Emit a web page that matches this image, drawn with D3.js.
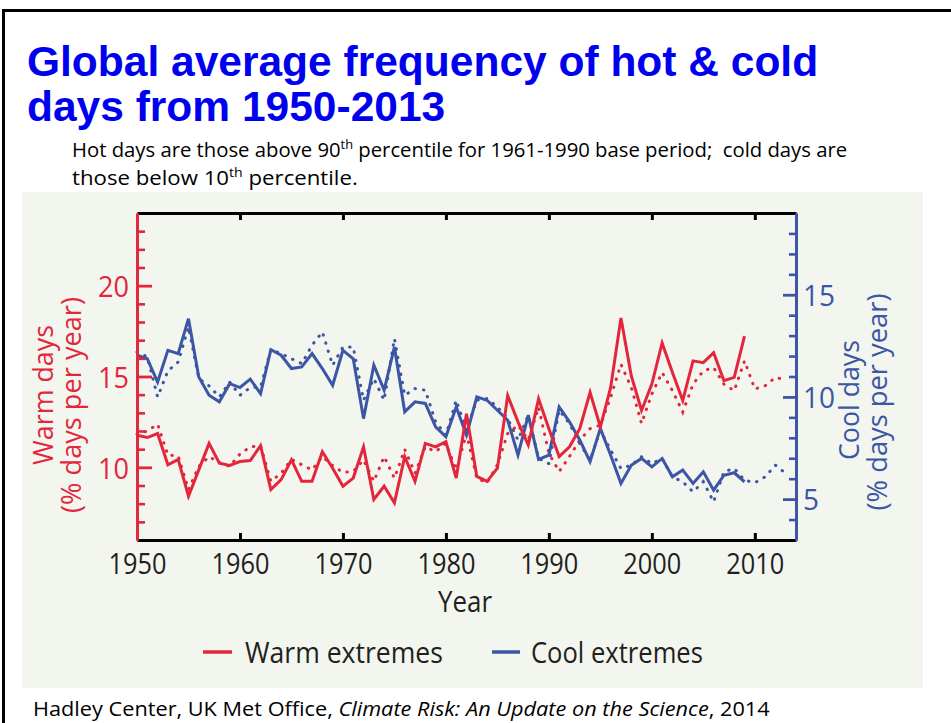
<!DOCTYPE html>
<html>
<head>
<meta charset="utf-8">
<script src="https://cdn.jsdelivr.net/npm/d3@7"></script>
<style>
  body { margin: 0; background: #fff; }
  svg { display: block; }
  text { white-space: pre; }
</style>
</head>
<body>
<svg id="chart" width="951" height="723"></svg>
<script>
// ---- data -------------------------------------------------------------
const startYear = 1950;
const xTickYears = [1950, 1960, 1970, 1980, 1990, 2000, 2010];
const warmTicks = [10, 15, 20];
const coolTicks = [5, 10, 15];

// warm days, % of days per year (solid: 1950-2009, dotted: 1950-2013)
const warmSolid = [
  11.77, 11.64, 11.86, 10.14, 10.44, 8.41, 9.86, 11.32, 10.23, 10.10,
  10.32, 10.37, 11.19, 8.77, 9.32, 10.41, 9.23, 9.23, 10.86, 9.95,
  8.96, 9.41, 11.13, 8.23, 8.96, 8.05, 10.59, 9.23, 11.32, 11.13,
  11.41, 9.41, 12.95, 9.50, 9.23, 9.95, 13.95, 12.50, 11.23, 13.77,
  12.13, 10.59, 11.13, 12.13, 14.13, 12.22, 14.40, 18.22, 15.04, 13.13,
  14.58, 16.85, 15.22, 13.68, 15.86, 15.76, 16.31, 14.77, 14.95, 17.22
];
const warmDotted = [
  11.82, 12.00, 12.37, 10.68, 10.63, 8.77, 10.05, 10.59, 10.26, 10.05,
  10.73, 11.13, 11.19, 9.23, 9.68, 10.44, 10.14, 9.86, 10.59, 10.10,
  9.72, 9.77, 10.41, 9.23, 10.59, 9.41, 10.99, 9.68, 11.13, 10.86,
  11.32, 9.86, 11.86, 9.41, 9.14, 10.14, 11.86, 12.32, 11.50, 13.31,
  10.77, 9.77, 10.59, 11.50, 12.13, 12.32, 13.86, 15.67, 14.40, 12.41,
  14.04, 15.22, 14.22, 13.04, 14.58, 15.31, 15.49, 14.58, 14.22, 15.86,
  14.31, 14.49, 14.95, 14.82
];

// cool days, % of days per year
const coolSolid = [
  12.04, 11.87, 10.73, 12.28, 12.12, 13.83, 10.98, 10.08, 9.76, 10.65,
  10.46, 10.87, 10.16, 12.31, 12.04, 11.39, 11.47, 12.12, 11.39, 10.57,
  12.28, 11.87, 8.94, 11.55, 10.33, 12.44, 9.27, 9.76, 9.68, 8.54,
  8.05, 9.51, 8.13, 10.00, 9.84, 9.35, 8.86, 7.15, 9.11, 6.94,
  7.15, 9.51, 8.78, 7.89, 6.83, 8.46, 7.15, 5.77, 6.66, 6.99,
  6.58, 6.99, 6.09, 6.42, 5.77, 6.34, 5.44, 6.17, 6.29, 5.85
];
const coolDotted = [
  12.20, 11.96, 10.00, 11.27, 11.71, 13.42, 10.90, 10.54, 10.00, 10.73,
  10.08, 10.46, 10.49, 12.31, 12.12, 11.87, 11.63, 12.53, 13.18, 11.55,
  12.44, 12.44, 9.84, 10.90, 9.84, 12.85, 10.08, 10.41, 10.33, 8.78,
  8.13, 9.84, 8.37, 9.84, 9.92, 9.51, 8.94, 7.89, 9.11, 6.99,
  6.74, 9.35, 8.70, 7.72, 6.91, 8.37, 7.40, 6.50, 6.66, 7.07,
  6.74, 6.99, 6.09, 5.85, 5.36, 5.85, 4.87, 6.34, 6.50, 5.93,
  5.80, 6.09, 6.66, 6.26
];

// ---- setup ------------------------------------------------------------
const W = 951, H = 723;
const plot = { left: 137, right: 796, top: 213, bottom: 540 };
const RED = "#e4263c", BLUE = "#3c55a5", INK = "#231f20";
const chartFont = "'Open Sans', 'Noto Sans', sans-serif";
const slideFont = "'Open Sans', 'Noto Sans', sans-serif";

const svg = d3.select("#chart");

// text helper: places text at (x,y), optional rotation, squeezed to a given width
function label(parent, content, o) {
  const t = parent.append("text")
    .attr("font-family", o.font || chartFont)
    .attr("font-size", o.size)
    .attr("font-weight", o.weight || null)
    .attr("fill", o.fill || INK)
    .attr("text-anchor", o.anchor || "start");
  if (typeof content === "string") t.text(content); else content(t);
  const s = o.width ? o.width / t.node().getComputedTextLength() : 1;
  t.attr("transform",
    `translate(${o.x},${o.y})` + (o.rotate ? ` rotate(${o.rotate})` : "") + ` scale(${s},1)`);
  return t;
}

// slide background and border
svg.append("rect").attr("width", W).attr("height", H).attr("fill", "#fff");
svg.append("path").attr("d", `M3.5,${H}V10.5H${W}`)
  .attr("fill", "none").attr("stroke", "#000").attr("stroke-width", 3);

// title
const title = svg.append("g");
["Global average frequency of hot & cold", "days from 1950-2013"].forEach((s, i) => {
  title.append("text")
    .attr("x", 27).attr("y", 76 + i * 45)
    .attr("font-family", "'Liberation Sans', Arial, sans-serif")
    .attr("font-weight", "bold").attr("font-size", 42.5)
    .attr("fill", "#0000f0").text(s);
});

// subtitle
label(svg, t => {
  t.append("tspan").text("Hot days are those above 90");
  t.append("tspan").attr("font-size", 13).attr("dy", -8).text("th");
  t.append("tspan").attr("dy", 8).text(" percentile for 1961-1990 base period;  cold days are");
}, { x: 72, y: 157, size: 20.5, fill: "#000", font: slideFont, width: 776 });
label(svg, t => {
  t.append("tspan").text("those below 10");
  t.append("tspan").attr("font-size", 13).attr("dy", -8).text("th");
  t.append("tspan").attr("dy", 8).text(" percentile.");
}, { x: 72, y: 185, size: 20.5, fill: "#000", font: slideFont, width: 286 });

// chart panel
svg.append("rect")
  .attr("x", 22).attr("y", 192).attr("width", 901).attr("height", 496)
  .attr("fill", "#f2f6ef");

// ---- scales -----------------------------------------------------------
const x = d3.scaleLinear().domain([1950, 2014]).range([plot.left, plot.right]);
const yWarm = d3.scaleLinear().domain([6, 24]).range([plot.bottom, plot.top]);
const yCool = d3.scaleLinear().domain([3, 19]).range([plot.bottom, plot.top]);

// ---- series -----------------------------------------------------------
function drawSeries(values, yScale, color, dotted) {
  const line = d3.line().x((d, i) => x(startYear + i)).y(d => yScale(d));
  svg.append("path")
    .datum(values)
    .attr("d", line)
    .attr("fill", "none")
    .attr("stroke", color)
    .attr("stroke-width", 3)
    .attr("stroke-linejoin", "miter")
    .attr("stroke-linecap", dotted ? "round" : "butt")
    .attr("stroke-dasharray", dotted ? "0.5 8" : null);
}
drawSeries(coolDotted, yCool, BLUE, true);
drawSeries(warmDotted, yWarm, RED, true);
drawSeries(coolSolid, yCool, BLUE, false);
drawSeries(warmSolid, yWarm, RED, false);

// ---- axes -------------------------------------------------------------
function styleAxis(g, color, width) {
  g.attr("font-family", chartFont).attr("font-size", 29);
  g.select(".domain").attr("stroke", color).attr("stroke-width", width);
  g.selectAll(".tick line").attr("stroke", color).attr("stroke-width", width);
  g.selectAll(".tick text").attr("fill", color === "#000" ? INK : color);
}

// bottom: years
const gx = svg.append("g").attr("transform", `translate(0,${plot.bottom})`)
  .call(d3.axisBottom(x).tickValues(xTickYears).tickFormat(d3.format("d"))
    .tickSizeInner(-7).tickSizeOuter(0).tickPadding(13));
styleAxis(gx, "#000", 3);
gx.selectAll(".tick").filter(d => d === 1950).select("line").remove();
gx.selectAll(".tick text").attr("textLength", 58).attr("lengthAdjust", "spacingAndGlyphs");

// top frame with decade ticks
const gxt = svg.append("g").attr("transform", `translate(0,${plot.top})`)
  .call(d3.axisTop(x).tickValues(xTickYears.slice(1)).tickFormat("")
    .tickSizeInner(-7).tickSizeOuter(0));
styleAxis(gxt, "#000", 3);

// left: warm days
const gyMinor = svg.append("g").attr("transform", `translate(${plot.left},0)`)
  .call(d3.axisLeft(yWarm).tickValues(d3.range(7, 24).filter(v => !warmTicks.includes(v)))
    .tickFormat("").tickSizeInner(-8).tickSizeOuter(0));
styleAxis(gyMinor, RED, 2.6);
const gy = svg.append("g").attr("transform", `translate(${plot.left},0)`)
  .call(d3.axisLeft(yWarm).tickValues(warmTicks).tickSizeInner(-15).tickSizeOuter(0).tickPadding(8));
styleAxis(gy, RED, 2.8);
gy.selectAll(".tick text").attr("dy", "0.37em")
  .attr("textLength", 31).attr("lengthAdjust", "spacingAndGlyphs");

// right: cool days
const gcMinor = svg.append("g").attr("transform", `translate(${plot.right},0)`)
  .call(d3.axisRight(yCool).tickValues(d3.range(4, 19).filter(v => !coolTicks.includes(v)))
    .tickFormat("").tickSizeInner(-7).tickSizeOuter(0));
styleAxis(gcMinor, BLUE, 2.6);
const gc = svg.append("g").attr("transform", `translate(${plot.right},0)`)
  .call(d3.axisRight(yCool).tickValues(coolTicks).tickSizeInner(-13).tickSizeOuter(0).tickPadding(7));
styleAxis(gc, BLUE, 2.8);
gc.selectAll(".tick text").attr("dy", "0.37em")
  .attr("textLength", d => d >= 10 ? 32 : 16).attr("lengthAdjust", "spacingAndGlyphs");

// axis titles
label(svg, "Warm days", { x: 53, y: 395, rotate: -90, anchor: "middle", size: 28, fill: RED, width: 140 });
label(svg, "(% days per year)", { x: 81, y: 405, rotate: -90, anchor: "middle", size: 28, fill: RED, width: 216 });
label(svg, "Cool days", { x: 859, y: 400, rotate: -90, anchor: "middle", size: 28, fill: BLUE, width: 120 });
label(svg, "(% days per year)", { x: 887, y: 402, rotate: -90, anchor: "middle", size: 28, fill: BLUE, width: 217 });
label(svg, "Year", { x: 465, y: 612, anchor: "middle", size: 29, width: 54 });

// legend
const legend = [
  { name: "Warm extremes", color: RED, x0: 203, x1: 232, tx: 245, w: 198 },
  { name: "Cool extremes", color: BLUE, x0: 492, x1: 520, tx: 531, w: 172 }
];
legend.forEach(d => {
  svg.append("line").attr("x1", d.x0).attr("x2", d.x1).attr("y1", 652).attr("y2", 652)
    .attr("stroke", d.color).attr("stroke-width", 3.5);
  label(svg, d.name, { x: d.tx, y: 663, size: 29, width: d.w });
});

// source line
label(svg, t => {
  t.append("tspan").text("Hadley Center, UK Met Office, ");
  t.append("tspan").attr("font-style", "italic").text("Climate Risk: An Update on the Science");
  t.append("tspan").text(", 2014");
}, { x: 33, y: 716, size: 20.5, fill: "#000", font: slideFont, width: 737 });
</script>
</body>
</html>
